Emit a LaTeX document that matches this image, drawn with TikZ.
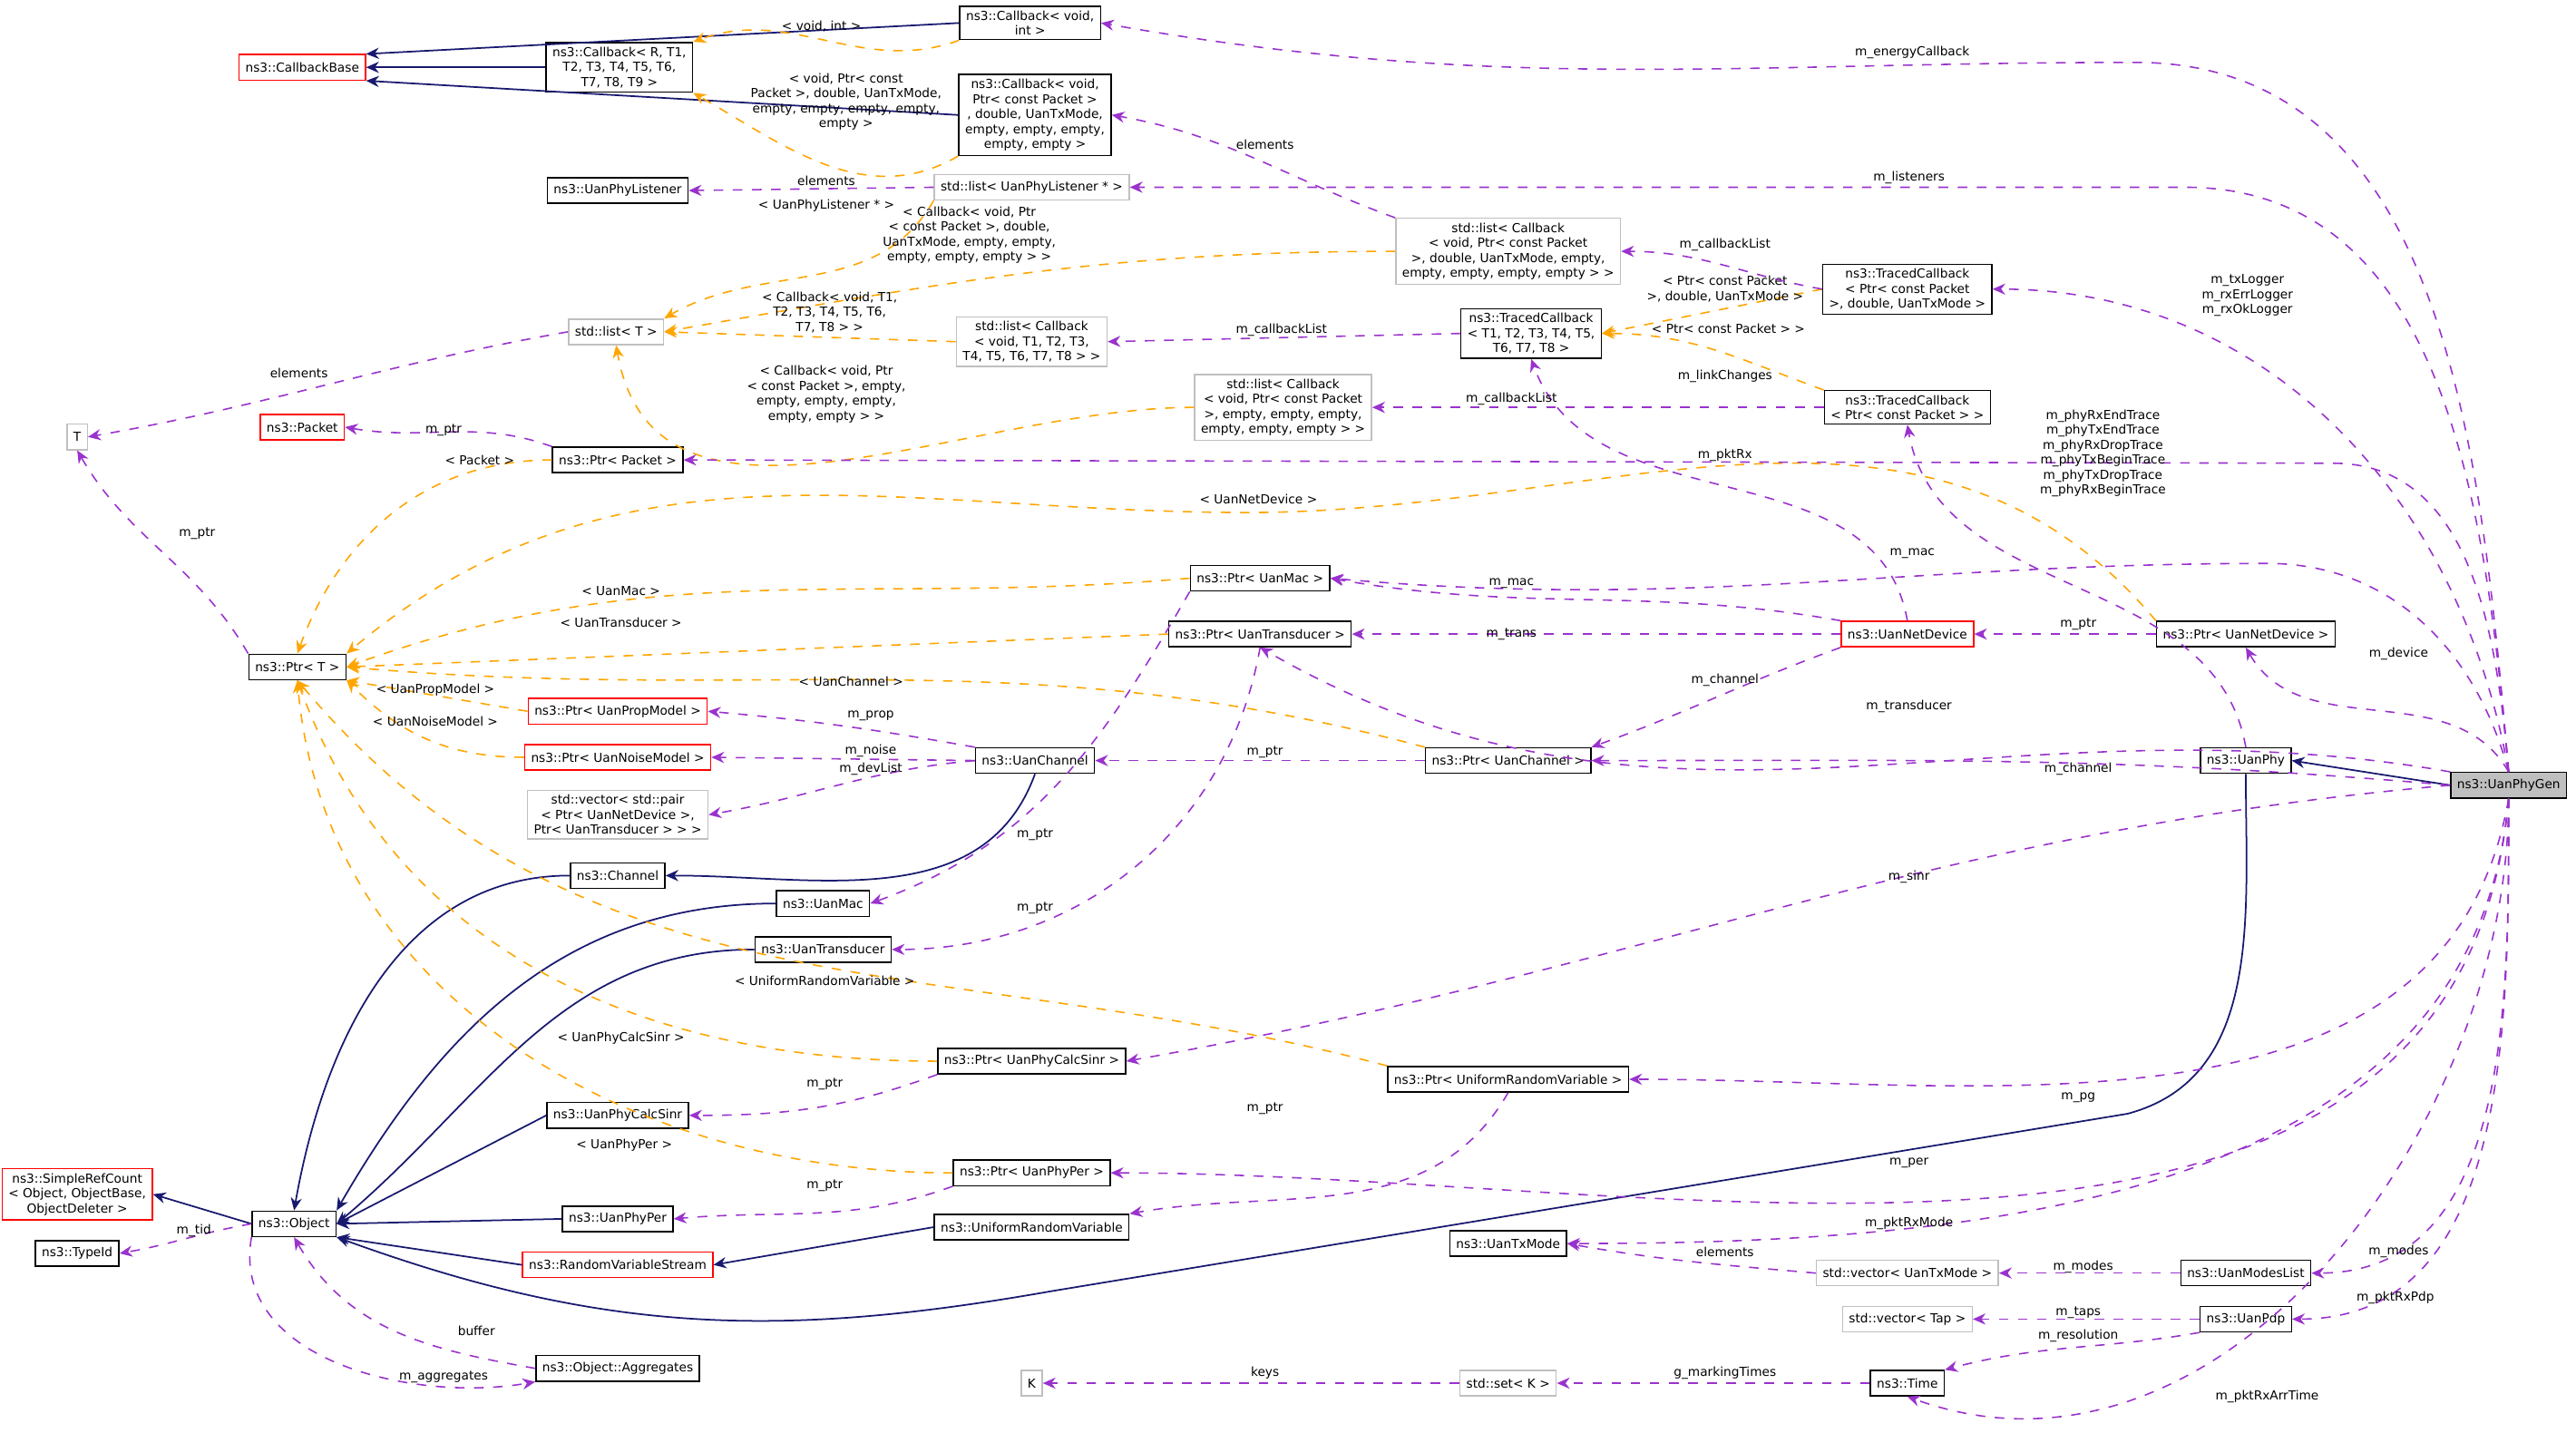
\documentclass[tikz,border=0pt]{standalone}
\usepackage{fontspec}
\setmainfont{DejaVu Sans}
\usetikzlibrary{positioning}
\usetikzlibrary{arrows.meta}
\usetikzlibrary{calc}

\definecolor{navy}{HTML}{191970}
\definecolor{usecol}{HTML}{9A32CD}
\definecolor{tplcol}{HTML}{FFA500}
\definecolor{greyline}{HTML}{BFBFBF}
\newcommand\dxfont{\fontsize{3.9}{4.7}\selectfont}

\tikzset{
  cls/.style={draw=black, fill=white, rectangle, font=\dxfont, align=center, inner xsep=2pt, inner ysep=1.4pt, minimum height=8pt, line width=0.4pt},
  redcls/.style={cls, draw=red},
  greycls/.style={cls, draw=greyline},
  inh/.style={draw=navy, line width=0.5pt, -{Stealth[length=4pt,width=3.5pt]}},
  use/.style={draw=usecol, dashed, line width=0.45pt, -{Stealth[length=4pt,width=3.5pt]}},
  tpl/.style={draw=tplcol, dashed, line width=0.45pt, -{Stealth[length=4pt,width=3.5pt]}},
  lbl/.style={font=\dxfont, align=center, inner sep=0.5pt}
}

\begin{document}
\begin{tikzpicture}[x=0.018112cm, y=0.018112cm]
        \useasboundingbox (0,0) rectangle (1568,-872);

        % Define the classes
        \node[redcls] (cbb) at (184,-41) {ns3::CallbackBase};
        \node[cls] (cbvi) at (627,-14) {ns3::Callback\textless{} void,\\ int \textgreater{}};
        \node[cls] (cbr) at (377,-41) {ns3::Callback\textless{} R, T1,\\ T2, T3, T4, T5, T6,\\ T7, T8, T9 \textgreater{}};
        \node[cls] (cbvp) at (630,-70) {ns3::Callback\textless{} void,\\ Ptr\textless{} const Packet \textgreater{}\\ , double, UanTxMode,\\ empty, empty, empty,\\ empty, empty \textgreater{}};
        \node[cls] (upl) at (376,-116) {ns3::UanPhyListener};
        \node[greycls] (lupl) at (628,-114) {std::list\textless{} UanPhyListener * \textgreater{}};
        \node[greycls] (lcbp) at (918,-153) {std::list\textless{} Callback\\ \textless{} void, Ptr\textless{} const Packet\\ \textgreater{}, double, UanTxMode, empty,\\ empty, empty, empty, empty \textgreater{} \textgreater{}};
        \node[cls] (tcpd) at (1161,-176) {ns3::TracedCallback\\ \textless{} Ptr\textless{} const Packet\\ \textgreater{}, double, UanTxMode \textgreater{}};
        \node[cls] (tct) at (932,-203) {ns3::TracedCallback\\ \textless{} T1, T2, T3, T4, T5,\\ T6, T7, T8 \textgreater{}};
        \node[greycls] (lt) at (375,-202) {std::list\textless{} T \textgreater{}};
        \node[greycls] (lcbt) at (628,-208) {std::list\textless{} Callback\\ \textless{} void, T1, T2, T3,\\ T4, T5, T6, T7, T8 \textgreater{} \textgreater{}};
        \node[cls] (tcp) at (1161,-248) {ns3::TracedCallback\\ \textless{} Ptr\textless{} const Packet \textgreater{} \textgreater{}};
        \node[greycls] (lcbe) at (781,-248) {std::list\textless{} Callback\\ \textless{} void, Ptr\textless{} const Packet\\ \textgreater{}, empty, empty, empty,\\ empty, empty, empty \textgreater{} \textgreater{}};
        \node[greycls] (T) at (47,-266) {T};
        \node[redcls] (pkt) at (184,-260) {ns3::Packet};
        \node[cls] (ppkt) at (376,-280) {ns3::Ptr\textless{} Packet \textgreater{}};
        \node[cls] (pt) at (181,-406) {ns3::Ptr\textless{} T \textgreater{}};
        \node[cls] (pmac) at (767,-352) {ns3::Ptr\textless{} UanMac \textgreater{}};
        \node[cls] (ptr) at (767,-386) {ns3::Ptr\textless{} UanTransducer \textgreater{}};
        \node[redcls] (nd) at (1161,-386) {ns3::UanNetDevice};
        \node[cls] (pnd) at (1367,-386) {ns3::Ptr\textless{} UanNetDevice \textgreater{}};
        \node[redcls] (pprop) at (376,-433) {ns3::Ptr\textless{} UanPropModel \textgreater{}};
        \node[redcls] (pnoise) at (376,-461) {ns3::Ptr\textless{} UanNoiseModel \textgreater{}};
        \node[cls] (ch) at (630,-463) {ns3::UanChannel};
        \node[cls] (pch) at (918,-463) {ns3::Ptr\textless{} UanChannel \textgreater{}};
        \node[cls] (phy) at (1367,-463) {ns3::UanPhy};
        \node[cls, fill=greyline] (gen) at (1527,-478) {ns3::UanPhyGen};
        \node[greycls] (vpair) at (376,-496) {std::vector\textless{} std::pair\\ \textless{} Ptr\textless{} UanNetDevice \textgreater{},\\ Ptr\textless{} UanTransducer \textgreater{} \textgreater{} \textgreater{}};
        \node[cls] (chan) at (376,-533) {ns3::Channel};
        \node[cls] (mac) at (501,-550) {ns3::UanMac};
        \node[cls] (trans) at (501,-578) {ns3::UanTransducer};
        \node[cls] (psinr) at (628,-646) {ns3::Ptr\textless{} UanPhyCalcSinr \textgreater{}};
        \node[cls] (purv) at (918,-657) {ns3::Ptr\textless{} UniformRandomVariable \textgreater{}};
        \node[cls] (sinr) at (376,-679) {ns3::UanPhyCalcSinr};
        \node[cls] (pper) at (628,-714) {ns3::Ptr\textless{} UanPhyPer \textgreater{}};
        \node[redcls] (src) at (47,-727) {ns3::SimpleRefCount\\ \textless{} Object, ObjectBase,\\ ObjectDeleter \textgreater{}};
        \node[cls] (obj) at (179,-745) {ns3::Object};
        \node[cls] (per) at (376,-742) {ns3::UanPhyPer};
        \node[cls] (urv) at (628,-747) {ns3::UniformRandomVariable};
        \node[redcls] (rvs) at (376,-770) {ns3::RandomVariableStream};
        \node[cls] (tid) at (47,-763) {ns3::TypeId};
        \node[cls] (txm) at (918,-757) {ns3::UanTxMode};
        \node[greycls] (vtxm) at (1161,-775) {std::vector\textless{} UanTxMode \textgreater{}};
        \node[cls] (modes) at (1367,-775) {ns3::UanModesList};
        \node[greycls] (vtap) at (1161,-803) {std::vector\textless{} Tap \textgreater{}};
        \node[cls] (pdp) at (1367,-803) {ns3::UanPdp};
        \node[cls] (agg) at (376,-833) {ns3::Object::Aggregates};
        \node[greycls] (K) at (628,-842) {K};
        \node[greycls] (setk) at (918,-842) {std::set\textless{} K \textgreater{}};
        \node[cls] (time) at (1161,-842) {ns3::Time};

        % Draw the inheritance
        \draw[inh] (cbvi.west) -- (cbb.north east);
        \draw[inh] (cbr.west) -- (cbb.east);
        \draw[inh] (cbvp.west) -- (cbb.south east);
        \draw[inh] (ch.south) to[out=-110,in=0] (chan.east);
        \draw[inh] (chan.west) to[out=180,in=80] (obj.north);
        \draw[inh] (mac.west) to[out=180,in=60] (obj.north east);
        \draw[inh] (trans.west) to[out=180,in=40] (obj.east);
        \draw[inh] (sinr.west) -- (obj.east);
        \draw[inh] (per.west) -- (obj.east);
        \draw[inh] (rvs.west) -- (obj.south east);
        \draw[inh] (phy.south) to[out=-90,in=15] (1295,-678) -- (640,-786) to[out=190,in=-20] (obj.south east);
        \draw[inh] (obj.west) -- (src.east);
        \draw[inh] (urv.west) -- (rvs.east);
        \draw[inh] (gen.west) -- (phy.east);

        % Draw the template instances
        \draw[tpl] (cbvi.south west) to[out=-160,in=20] (cbr.north east);
        \draw[tpl] (cbvp.south west) to[out=-150,in=-30] (cbr.south east);
        \draw[tpl] (lupl.south west) to[out=-120,in=30] (lt.north east);
        \draw[tpl] (lcbp.west) to[out=180,in=10] (lt.east);
        \draw[tpl] (lcbt.west) -- (lt.east);
        \draw[tpl] (lcbe.west) to[out=180,in=-80] (lt.south);
        \draw[tpl] (tcpd.west) -- (tct.east);
        \draw[tpl] (tcp.north west) to[out=160,in=0] (tct.east);
        \draw[tpl] (ppkt.west) to[out=180,in=70] (pt.north);
        \draw[tpl] (pnd.north west) to[out=130,in=0] (760,-312) to[out=180,in=40] (pt.north east);
        \draw[tpl] (pmac.west) to[out=185,in=20] (pt.east);
        \draw[tpl] (ptr.west) -- (pt.east);
        \draw[tpl] (pch.north west) to[out=165,in=-5] (pt.east);
        \draw[tpl] (pprop.west) -- (pt.south east);
        \draw[tpl] (pnoise.west) to[out=180,in=-45] (pt.south east);
        \draw[tpl] (purv.north west) to[out=165,in=-50] (pt.south);
        \draw[tpl] (psinr.west) to[out=180,in=-70] (pt.south);
        \draw[tpl] (pper.west) to[out=180,in=-85] (pt.south);

        \node[lbl] (l1) at (500,-16) {\textless{} void, int \textgreater{}};
        \node[lbl] (l2) at (515,-62) {\textless{} void, Ptr\textless{} const\\ Packet \textgreater{}, double, UanTxMode,\\ empty, empty, empty, empty,\\ empty \textgreater{}};
        \node[lbl] (l3) at (503,-125) {\textless{} UanPhyListener * \textgreater{}};
        \node[lbl] (l4) at (590,-143) {\textless{} Callback\textless{} void, Ptr\\ \textless{} const Packet \textgreater{}, double,\\ UanTxMode, empty, empty,\\ empty, empty, empty \textgreater{} \textgreater{}};
        \node[lbl] (l5) at (505,-190) {\textless{} Callback\textless{} void, T1,\\ T2, T3, T4, T5, T6,\\ T7, T8 \textgreater{} \textgreater{}};
        \node[lbl] (l6) at (503,-240) {\textless{} Callback\textless{} void, Ptr\\ \textless{} const Packet \textgreater{}, empty,\\ empty, empty, empty,\\ empty, empty \textgreater{} \textgreater{}};
        \node[lbl] (l7) at (1050,-176) {\textless{} Ptr\textless{} const Packet\\ \textgreater{}, double, UanTxMode \textgreater{}};
        \node[lbl] (l8) at (1052,-200) {\textless{} Ptr\textless{} const Packet \textgreater{} \textgreater{}};
        \node[lbl] (l9) at (292,-280) {\textless{} Packet \textgreater{}};
        \node[lbl] (l10) at (766,-304) {\textless{} UanNetDevice \textgreater{}};
        \node[lbl] (l11) at (378,-360) {\textless{} UanMac \textgreater{}};
        \node[lbl] (l12) at (378,-379) {\textless{} UanTransducer \textgreater{}};
        \node[lbl] (l13) at (518,-415) {\textless{} UanChannel \textgreater{}};
        \node[lbl] (l14) at (265,-420) {\textless{} UanPropModel \textgreater{}};
        \node[lbl] (l15) at (265,-439) {\textless{} UanNoiseModel \textgreater{}};
        \node[lbl] (l16) at (502,-597) {\textless{} UniformRandomVariable \textgreater{}};
        \node[lbl] (l17) at (378,-632) {\textless{} UanPhyCalcSinr \textgreater{}};
        \node[lbl] (l18) at (380,-697) {\textless{} UanPhyPer \textgreater{}};

        % Draw the members
        \coordinate (rEnergy) at (1300,-38);
        \coordinate (rListen) at (1330,-114);
        \coordinate (rPktRx) at (1420,-282);
        \coordinate (rMac) at (1380,-343);
        \draw[use] (gen.north) to[out=95,in=0] (rEnergy) to[out=180,in=-10] (cbvi.east);
        \draw[use] (gen.north) to[out=95,in=0] (rListen) -- (lupl.east);
        \draw[use] (gen.north) to[out=100,in=0] (tcpd.east);
        \draw[use] (phy.north) to[out=100,in=-80] (tcp.south);
        \draw[use] (gen.north) to[out=95,in=0] (rPktRx) -- (ppkt.east);
        \draw[use] (gen.north) to[out=105,in=0] (rMac) to[out=180,in=-5] (pmac.east);
        \draw[use] (gen.north) to[out=120,in=-60] (pnd.south);
        \draw[use] (gen.north west) to[out=170,in=-30] (ptr.south);
        \draw[use] (gen.west) to[out=175,in=0] (pch.east);
        \draw[use] (gen.west) to[out=185,in=10] (psinr.east);
        \draw[use] (gen.south) to[out=-100,in=0] (purv.east);
        \draw[use] (gen.south) to[out=-95,in=0] (pper.east);
        \draw[use] (gen.south) to[out=-95,in=0] (txm.east);
        \draw[use] (gen.south) to[out=-90,in=0] (modes.east);
        \draw[use] (gen.south) to[out=-90,in=0] (pdp.east);
        \draw[use] (gen.south) to[out=-90,in=-20] (time.south);

        \draw[use] (lcbp.north west) to[out=160,in=-10] (cbvp.east);
        \draw[use] (lupl.west) -- (upl.east);
        \draw[use] (tcpd.west) to[out=170,in=0] (lcbp.east);
        \draw[use] (tct.west) -- (lcbt.east);
        \draw[use] (tcp.west) -- (lcbe.east);
        \draw[use] (lt.west) to[out=190,in=10] (T.east);
        \draw[use] (nd.north) to[out=100,in=-70] (tct.south);
        \draw[use] (ppkt.north west) to[out=160,in=-10] (pkt.east);
        \draw[use] (pt.north west) to[out=120,in=-60] (T.south);
        \draw[use] (nd.north west) to[out=170,in=-10] (pmac.east);
        \draw[use] (nd.west) -- (ptr.east);
        \draw[use] (pnd.west) -- (nd.east);
        \draw[use] (nd.south west) to[out=-160,in=20] (pch.north east);
        \draw[use] (ch.north west) to[out=170,in=-5] (pprop.east);
        \draw[use] (ch.west) -- (pnoise.east);
        \draw[use] (ch.west) to[out=185,in=10] (vpair.east);
        \draw[use] (pch.west) -- (ch.east);
        \draw[use] (pmac.south west) to[out=-120,in=20] (mac.east);
        \draw[use] (ptr.south) to[out=-100,in=0] (trans.east);
        \draw[use] (psinr.south west) to[out=-160,in=0] (sinr.east);
        \draw[use] (purv.south) to[out=-120,in=10] (urv.north east);
        \draw[use] (pper.south west) to[out=-160,in=5] (per.east);
        \draw[use] (obj.west) to[out=190,in=10] (tid.east);
        \draw[use] (agg.west) to[out=170,in=-60] (obj.south);
        \draw[use] (obj.south west) to[out=-100,in=190] (agg.south west);
        \draw[use] (vtxm.west) to[out=175,in=-10] (txm.east);
        \draw[use] (modes.west) -- (vtxm.east);
        \draw[use] (pdp.west) -- (vtap.east);
        \draw[use] (pdp.south west) to[out=-170,in=15] (time.north east);
        \draw[use] (setk.west) -- (K.east);
        \draw[use] (time.west) -- (setk.east);

        \node[lbl] (m1) at (1164,-32) {m\_energyCallback};
        \node[lbl] (m2) at (1162,-108) {m\_listeners};
        \node[lbl] (m3) at (1368,-180) {m\_txLogger\\ m\_rxErrLogger\\ m\_rxOkLogger};
        \node[lbl] (m4) at (1280,-276) {m\_phyRxEndTrace\\ m\_phyTxEndTrace\\ m\_phyRxDropTrace\\ m\_phyTxBeginTrace\\ m\_phyTxDropTrace\\ m\_phyRxBeginTrace};
        \node[lbl] (m5) at (1050,-277) {m\_pktRx};
        \node[lbl] (m6) at (1164,-337) {m\_mac};
        \node[lbl] (m7) at (1460,-398) {m\_device};
        \node[lbl] (m8) at (1162,-430) {m\_transducer};
        \node[lbl] (m9) at (1265,-468) {m\_channel};
        \node[lbl] (m10) at (1162,-534) {m\_sinr};
        \node[lbl] (m11) at (1265,-668) {m\_pg};
        \node[lbl] (m12) at (1162,-708) {m\_per};
        \node[lbl] (m13) at (1162,-745) {m\_pktRxMode};
        \node[lbl] (m14) at (1460,-762) {m\_modes};
        \node[lbl] (m15) at (1458,-790) {m\_pktRxPdp};
        \node[lbl] (m16) at (1380,-850) {m\_pktRxArrTime};
        \node[lbl] (m17) at (770,-88) {elements};
        \node[lbl] (m18) at (503,-110) {elements};
        \node[lbl] (m19) at (1050,-149) {m\_callbackList};
        \node[lbl] (m20) at (780,-201) {m\_callbackList};
        \node[lbl] (m21) at (920,-243) {m\_callbackList};
        \node[lbl] (m22) at (182,-227) {elements};
        \node[lbl] (m23) at (1050,-229) {m\_linkChanges};
        \node[lbl] (m24) at (270,-262) {m\_ptr};
        \node[lbl] (m25) at (120,-325) {m\_ptr};
        \node[lbl] (m26) at (920,-355) {m\_mac};
        \node[lbl] (m27) at (920,-386) {m\_trans};
        \node[lbl] (m28) at (1265,-380) {m\_ptr};
        \node[lbl] (m29) at (1050,-414) {m\_channel};
        \node[lbl] (m30) at (530,-436) {m\_prop};
        \node[lbl] (m31) at (530,-457) {m\_noise};
        \node[lbl] (m32) at (530,-468) {m\_devList};
        \node[lbl] (m33) at (770,-458) {m\_ptr};
        \node[lbl] (m34) at (630,-508) {m\_ptr};
        \node[lbl] (m35) at (630,-553) {m\_ptr};
        \node[lbl] (m36) at (502,-660) {m\_ptr};
        \node[lbl] (m37) at (770,-675) {m\_ptr};
        \node[lbl] (m38) at (502,-722) {m\_ptr};
        \node[lbl] (m39) at (118,-749) {m\_tid};
        \node[lbl] (m40) at (290,-810) {buffer};
        \node[lbl] (m41) at (270,-838) {m\_aggregates};
        \node[lbl] (m42) at (1050,-762) {elements};
        \node[lbl] (m43) at (1268,-771) {m\_modes};
        \node[lbl] (m44) at (1265,-799) {m\_taps};
        \node[lbl] (m45) at (1265,-813) {m\_resolution};
        \node[lbl] (m46) at (770,-836) {keys};
        \node[lbl] (m47) at (1050,-836) {g\_markingTimes};
\end{tikzpicture}
\end{document}
